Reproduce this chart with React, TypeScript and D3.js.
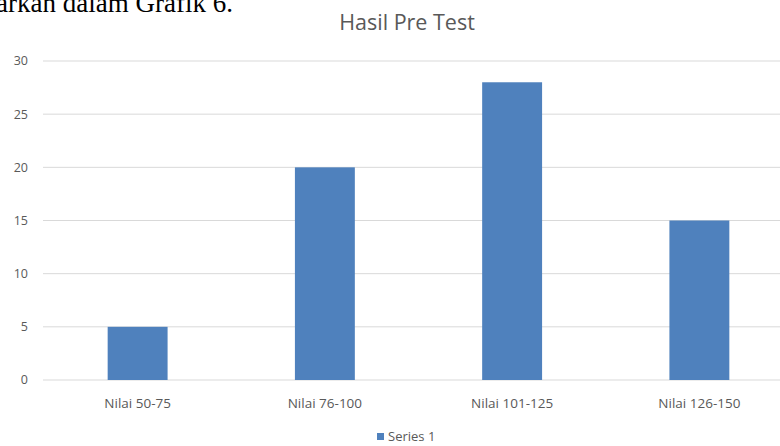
import React from "react";
import * as d3 from "d3";

const categories = ["Nilai 50-75", "Nilai 76-100", "Nilai 101-125", "Nilai 126-150"];
const values = [5, 20, 28, 15];
const yTicks = [0, 5, 10, 15, 20, 25, 30];
const title = "Hasil Pre Test";
const seriesName = "Series 1";

export default function App() {
  const W = 780, H = 446;
  const x = d3.scaleBand<string>().domain(categories).range([44, 793]).paddingInner(0.68).paddingOuter(0.34);
  const y = d3.scaleLinear().domain([0, 30]).range([380, 61]);
  const font = "'Open Sans', 'Noto Sans', sans-serif";
  return (
    <svg width={W} height={H} style={{ position: "absolute", left: 0, top: 0, background: "#fff" }}>
      <text x={-4} y={12} fontFamily="'Liberation Serif', 'DejaVu Serif', serif" fontSize={27} fill="#000">arkan dalam Grafik 6.</text>
      <text x={407} y={30} textAnchor="middle" fontFamily={font} fontSize={21.5} fill="#595959">{title}</text>
      {yTicks.map((t) => (
        <g key={t}>
          <line x1={43} x2={780} y1={y(t)} y2={y(t)} stroke="#d9d9d9" strokeWidth={1} />
          <text x={28} y={y(t)} dy="0.35em" textAnchor="end" fontFamily={font} fontSize={12.5} fill="#595959">{t}</text>
        </g>
      ))}
      {categories.map((c, i) => (
        <rect key={c} x={x(c)} y={y(values[i])} width={x.bandwidth()} height={y(0) - y(values[i])} fill="#4f81bd" />
      ))}
      {categories.map((c) => (
        <text key={c} x={(x(c) as number) + x.bandwidth() / 2} y={408} textAnchor="middle" fontFamily={font} fontSize={13.5} fill="#595959">{c}</text>
      ))}
      <rect x={377} y={433} width={7} height={7} fill="#4f81bd" />
      <text x={388} y={441} fontFamily={font} fontSize={13} fill="#595959">{seriesName}</text>
    </svg>
  );
}
